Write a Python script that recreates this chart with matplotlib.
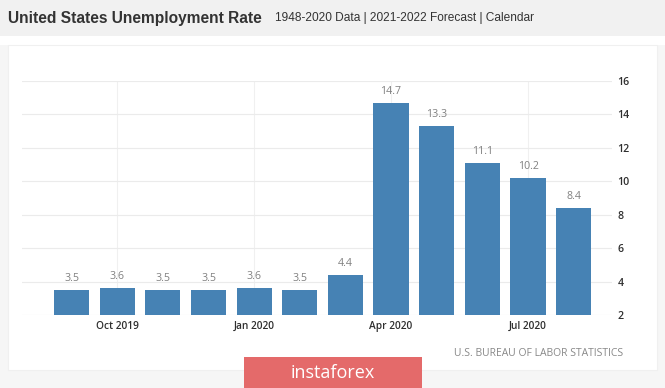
import matplotlib
matplotlib.use("Agg")
import matplotlib.pyplot as plt
from matplotlib.patches import Rectangle

months = ["Sep 2019", "Oct 2019", "Nov 2019", "Dec 2019", "Jan 2020", "Feb 2020",
          "Mar 2020", "Apr 2020", "May 2020", "Jun 2020", "Jul 2020", "Aug 2020"]
rates = [3.5, 3.6, 3.5, 3.5, 3.6, 3.5, 4.4, 14.7, 13.3, 11.1, 10.2, 8.4]
xtick_labels = ["Oct 2019", "Jan 2020", "Apr 2020", "Jul 2020"]
yticks = [2, 4, 6, 8, 10, 12, 14, 16]

W, H = 665, 388
fig = plt.figure(figsize=(W / 100, H / 100), dpi=100)
fig.patch.set_facecolor("#f6f6f6")

# title band
fig.patches.append(Rectangle((0, 1 - 36 / H), 1, 36 / H, transform=fig.transFigure,
                             facecolor="#f1f1f1", edgecolor="none", zorder=-2))
fig.patches.append(Rectangle((0, 1 - 45 / H), 1, 9 / H, transform=fig.transFigure,
                             facecolor="#ffffff", edgecolor="none", zorder=-2))
# chart panel
fig.patches.append(Rectangle((8 / W, 1 - 370 / H), (657 - 8) / W, (370 - 45) / H,
                             transform=fig.transFigure, facecolor="#ffffff",
                             edgecolor="#f0f0f0", linewidth=0.8, zorder=-1))

fig.text(8 / W, 1 - 18 / H, "United States Unemployment Rate", fontsize=11.2,
         fontweight="bold", color="#333333", family="Liberation Sans", va="center")
fig.text(275 / W, 1 - 18 / H, "1948-2020 Data | 2021-2022 Forecast | Calendar",
         fontsize=8.6, color="#333333", family="Liberation Sans", va="center")

ax = fig.add_axes([22 / W, 1 - 315 / H, (612 - 22) / W, (315 - 81) / H])
ax.set_zorder(2)
ax.set_facecolor("none")
x = list(range(len(months)))
bars = ax.bar(x, rates, width=0.77, color="#4682B4", zorder=3, bottom=0)
ax.set_ylim(2, 16)
ax.set_xlim(-1.085, 11.84)

for xi, v in zip(x, rates):
    ax.text(xi, v + 0.35, f"{v}", ha="center", va="bottom", fontsize=7.7,
            color="#808080", family="Open Sans", clip_on=False)

tick_pos = [months.index(m) for m in xtick_labels]
ax.set_xticks(tick_pos)
ax.set_xticklabels(xtick_labels, fontsize=7.3, color="#2f2f2f", family="Open Sans",
                   fontweight="semibold")
ax.set_yticks(yticks)
ax.set_yticklabels([str(t) for t in yticks], fontsize=7.7, color="#2f2f2f",
                   family="Open Sans", fontweight="semibold")
ax.yaxis.tick_right()
ax.tick_params(axis="both", length=0)
ax.tick_params(axis="y", pad=4)
ax.tick_params(axis="x", pad=4)
ax.grid(True, axis="y", color="#ebebeb", linewidth=0.8, zorder=0)
ax.grid(True, axis="x", color="#f0f0f0", linewidth=0.8, zorder=0)
for s in ax.spines.values():
    s.set_visible(False)

fig.text(623 / W, 1 - 353 / H, "U.S. BUREAU OF LABOR STATISTICS", fontsize=7.5,
         color="#888888", family="Open Sans", ha="right", va="center")

# watermark badge
fig.patches.append(Rectangle((244 / W, 0), (422 - 244) / W, (388 - 357) / H,
                             transform=fig.transFigure, facecolor="#e46a6a",
                             edgecolor="none", zorder=5))
fig.text(333 / W, 1 - 373 / H, "instaforex", fontsize=13, color="white",
         family="Open Sans", ha="center", va="center", zorder=6)

fig.savefig("out.png", dpi=100, facecolor=fig.get_facecolor())
